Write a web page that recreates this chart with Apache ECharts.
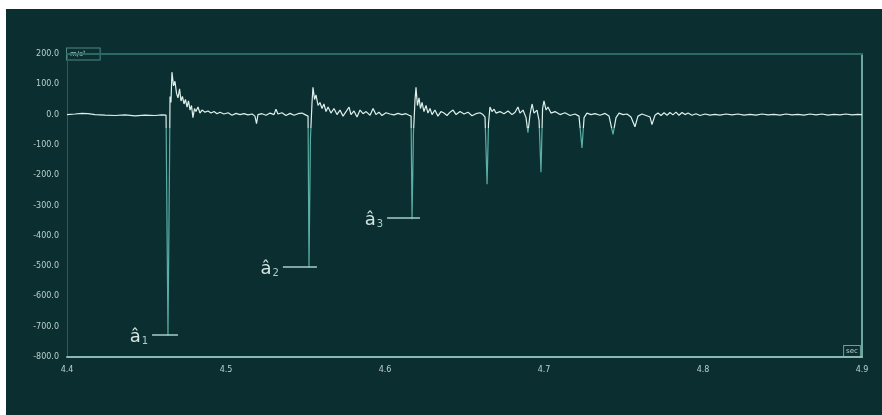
<!DOCTYPE html>
<html>
<head>
<meta charset="utf-8">
<script src="https://cdn.jsdelivr.net/npm/echarts@6/dist/echarts.min.js"></script>
<style>
  html, body { margin: 0; padding: 0; background: #ffffff; }
  #main { position: absolute; left: 6px; top: 9px; width: 876px; height: 406px; }
</style>
</head>
<body>
<div id="main"></div>
<script>
// time (sec) and acceleration (m/s²)
var times = [
  4.4000, 4.4050, 4.4094, 4.4132, 4.4176, 4.4239, 4.4302, 4.4365, 4.4428, 4.4491,
  4.4553, 4.4597, 4.4623, 4.4629, 4.4635, 4.4645, 4.4648, 4.4654, 4.4660, 4.4670,
  4.4679, 4.4689, 4.4698, 4.4708, 4.4717, 4.4726, 4.4736, 4.4745, 4.4755, 4.4764,
  4.4774, 4.4783, 4.4792, 4.4802, 4.4811, 4.4824, 4.4836, 4.4849, 4.4868, 4.4887,
  4.4906, 4.4925, 4.4943, 4.4962, 4.4987, 4.5013, 4.5038, 4.5063, 4.5088, 4.5113,
  4.5138, 4.5164, 4.5182, 4.5192, 4.5201, 4.5226, 4.5252, 4.5277, 4.5302, 4.5314,
  4.5327, 4.5352, 4.5377, 4.5403, 4.5428, 4.5453, 4.5478, 4.5497, 4.5509, 4.5516,
  4.5522, 4.5531, 4.5541, 4.5547, 4.5557, 4.5566, 4.5579, 4.5591, 4.5604, 4.5616,
  4.5629, 4.5642, 4.5660, 4.5679, 4.5698, 4.5717, 4.5736, 4.5755, 4.5774, 4.5786,
  4.5805, 4.5824, 4.5843, 4.5862, 4.5881, 4.5906, 4.5925, 4.5943, 4.5962, 4.5981,
  4.6006, 4.6031, 4.6057, 4.6082, 4.6107, 4.6132, 4.6151, 4.6164, 4.6170, 4.6179,
  4.6189, 4.6195, 4.6204, 4.6214, 4.6223, 4.6233, 4.6245, 4.6258, 4.6270, 4.6283,
  4.6296, 4.6314, 4.6333, 4.6352, 4.6371, 4.6390, 4.6409, 4.6428, 4.6447, 4.6472,
  4.6497, 4.6522, 4.6547, 4.6572, 4.6597, 4.6616, 4.6629, 4.6642, 4.6651, 4.6660,
  4.6673, 4.6686, 4.6698, 4.6723, 4.6748, 4.6774, 4.6799, 4.6818, 4.6836, 4.6849,
  4.6868, 4.6887, 4.6899, 4.6912, 4.6925, 4.6937, 4.6956, 4.6969, 4.6981, 4.6991,
  4.7000, 4.7013, 4.7025, 4.7044, 4.7069, 4.7101, 4.7132, 4.7164, 4.7195, 4.7220,
  4.7239, 4.7252, 4.7270, 4.7296, 4.7321, 4.7352, 4.7384, 4.7409, 4.7434, 4.7453,
  4.7472, 4.7497, 4.7522, 4.7547, 4.7572, 4.7591, 4.7616, 4.7642, 4.7667, 4.7679,
  4.7698, 4.7717, 4.7736, 4.7755, 4.7774, 4.7792, 4.7811, 4.7830, 4.7849, 4.7868,
  4.7887, 4.7906, 4.7931, 4.7956, 4.7981, 4.8013, 4.8044, 4.8075, 4.8107, 4.8145,
  4.8182, 4.8220, 4.8258, 4.8296, 4.8333, 4.8371, 4.8409, 4.8447, 4.8484, 4.8522,
  4.8560, 4.8597, 4.8635, 4.8673, 4.8711, 4.8748, 4.8786, 4.8824, 4.8862, 4.8899,
  4.8937, 4.8975, 4.9000
];
var accel = [
  0, 2, 4, 3, 0, -2, -3, -1, -4, -2,
  -3, -1, -2, -3, -730, -150, 60, 40, 140, 95,
  110, 70, 55, 85, 45, 60, 35, 50, 25, 45,
  15, 30, -10, 20, 10, 25, 5, 15, 8, 12,
  5, 10, 3, 8, 2, 6, -2, 4, 0, 3,
  -1, 2, -5, -30, 0, 3, -2, 5, 0, 18,
  2, 6, -3, 4, -2, 3, 5, 0, -4, -5,
  -505, -80, 40, 90, 50, 65, 30, 40, 20, 35,
  10, 25, 5, 20, 0, 15, -5, 10, 25, 0,
  12, -8, 15, 3, 10, -2, 20, 0, 8, -3,
  6, 2, -1, 4, 0, 3, -2, -5, -345, -60,
  50, 90, 30, 55, 20, 40, 10, 30, 5, 20,
  0, 15, -5, 10, 5, -3, 8, 15, 0, 10,
  2, 8, -4, 3, 6, 0, -8, -230, -30, 25,
  10, 18, 5, 10, 3, 12, 0, 8, 25, 5,
  15, -10, -60, 0, 35, 5, 15, -20, -190, 20,
  45, 15, 25, 5, 10, 0, 6, -3, 2, -5,
  -110, -10, 5, 0, 3, -2, 4, -5, -65, -10,
  5, 0, 2, -8, -40, -5, 2, -3, -8, -33,
  -2, 5, -3, 6, -2, 7, -1, 8, -2, 7,
  0, 5, -2, 3, -3, 2, -2, 1, -2, 2,
  -1, 2, -2, 1, -2, 2, -1, 1, -2, 2,
  -1, 1, -2, 2, -1, 2, -2, 1, -1, 2,
  -1, 1, 0
];

// peak markers: label, level, segment start/end time
var peakNames = ['1', '2', '3'];
var peakLevels = [-726, -502, -340];
var peakFrom = [4.4535, 4.5358, 4.6013];
var peakTo = [4.4698, 4.5572, 4.6220];

var yTicks = { min: -800, max: 200, step: 100 };
var xTicks = { min: 4.4, max: 4.9, step: 0.1 };

var bg = '#0b2e30';
var txt = '#b9d0cc';

var trace = [];
for (var i = 0; i < times.length; i++) {
  trace.push([times[i], accel[i]]);
}

var marks = [];
for (var k = 0; k < peakNames.length; k++) {
  marks.push([
    { coord: [peakFrom[k], peakLevels[k]], label: { formatter: '{a|â}{s|' + peakNames[k] + '}' } },
    { coord: [peakTo[k], peakLevels[k]] }
  ]);
}

var chart = echarts.init(document.getElementById('main'));
chart.setOption({
  backgroundColor: bg,
  animation: false,
  textStyle: { fontFamily: 'DejaVu Sans' },
  grid: { left: 61, right: 20, top: 45, bottom: 58, containLabel: false },
  visualMap: {
    show: false,
    type: 'piecewise',
    dimension: 1,
    seriesIndex: 0,
    pieces: [
      { min: -1000, max: -45, color: '#5aaea5' },
      { min: -45, max: 1000, color: '#dcefea' }
    ]
  },
  xAxis: [{
    type: 'value',
    min: xTicks.min,
    max: xTicks.max,
    interval: xTicks.step,
    name: 'sec',
    nameLocation: 'end',
    nameGap: -10,
    nameTextStyle: {
      color: txt, fontSize: 7, align: 'center', verticalAlign: 'bottom',
      borderColor: '#6f9f9a', borderWidth: 1, padding: [1, 2, 1, 2],
      backgroundColor: bg, lineHeight: 9
    },
    axisLine: { show: true, onZero: false, lineStyle: { color: '#8ab8b2', width: 2 } },
    axisTick: { show: false },
    splitLine: { show: false },
    axisLabel: {
      color: txt, fontSize: 8, margin: 9,
      formatter: function (v) { return v.toFixed(1); }
    }
  }, {
    type: 'value',
    position: 'top',
    min: xTicks.min,
    max: xTicks.max,
    axisLine: { show: true, onZero: false, lineStyle: { color: '#2c6865', width: 2 } },
    axisTick: { show: false },
    axisLabel: { show: false },
    splitLine: { show: false }
  }],
  yAxis: [{
    type: 'value',
    min: yTicks.min,
    max: yTicks.max,
    interval: yTicks.step,
    name: 'm/s²',
    nameLocation: 'end',
    nameGap: 0,
    nameTextStyle: {
      color: txt, fontSize: 7, align: 'left', verticalAlign: 'middle',
      borderColor: '#4f8884', borderWidth: 1, padding: [1, 14, 1, 3],
      backgroundColor: bg, lineHeight: 9
    },
    axisLine: { show: true, onZero: false, lineStyle: { color: '#2a5c59', width: 1 } },
    axisTick: { show: false },
    splitLine: { show: false },
    axisLabel: {
      color: txt, fontSize: 8, margin: 8,
      formatter: function (v) { return v.toFixed(1); }
    }
  }, {
    type: 'value',
    position: 'right',
    min: yTicks.min,
    max: yTicks.max,
    axisLine: { show: true, onZero: false, lineStyle: { color: '#6fa6a0', width: 2 } },
    axisTick: { show: false },
    axisLabel: { show: false },
    splitLine: { show: false }
  }],
  series: [{
    type: 'line',
    xAxisIndex: 0,
    yAxisIndex: 0,
    data: trace,
    showSymbol: false,
    symbol: 'none',
    lineStyle: { width: 1.2 },
    markLine: {
      silent: true,
      symbol: 'none',
      lineStyle: { color: '#a4d0ca', width: 1.5, type: 'solid' },
      label: {
        show: true,
        position: 'start',
        distance: 4,
        color: '#d3e6e2',
        rich: {
          a: { fontSize: 18, color: '#d3e6e2', fontFamily: 'DejaVu Sans', verticalAlign: 'bottom' },
          s: { fontSize: 10, color: '#a9cfc9', fontFamily: 'DejaVu Sans', padding: [14, 0, 0, 1], verticalAlign: 'bottom' }
        }
      },
      data: marks
    }
  }]
});
</script>
</body>
</html>
